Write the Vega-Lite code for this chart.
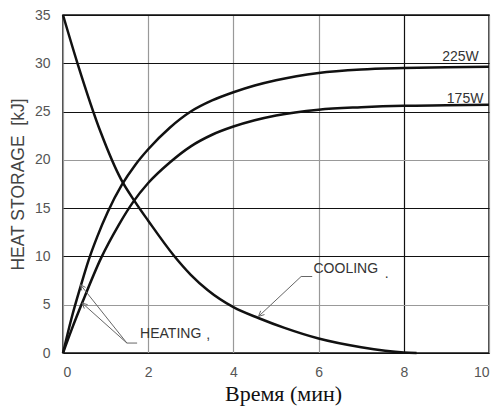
{
  "$schema": "https://vega.github.io/schema/vega-lite/v6.json",
  "width": 426,
  "height": 338,
  "autosize": {"type": "none"},
  "padding": {"left": 63, "top": 15, "right": 7, "bottom": 59},
  "background": "white",
  "config": {
    "view": {"stroke": "#111", "strokeWidth": 1.5},
    "axis": {
      "labelFont": "Liberation Sans",
      "labelFontSize": 14,
      "labelColor": "#555",
      "ticks": false,
      "domain": false,
      "grid": true,
      "gridWidth": 1.2
    }
  },
  "datasets": {
    "curves": [
      {"s": "225W", "x": 0, "y": 0},
      {"s": "225W", "x": 0.2, "y": 3.6},
      {"s": "225W", "x": 0.42, "y": 7.0},
      {"s": "225W", "x": 0.6, "y": 9.6},
      {"s": "225W", "x": 0.8, "y": 12.0},
      {"s": "225W", "x": 1.05, "y": 14.6},
      {"s": "225W", "x": 1.38, "y": 17.4},
      {"s": "225W", "x": 1.7, "y": 19.5},
      {"s": "225W", "x": 2.0, "y": 21.1},
      {"s": "225W", "x": 2.5, "y": 23.3},
      {"s": "225W", "x": 3.0, "y": 25.0},
      {"s": "225W", "x": 3.5, "y": 26.15},
      {"s": "225W", "x": 4.0, "y": 27.0},
      {"s": "225W", "x": 4.5, "y": 27.7},
      {"s": "225W", "x": 5.0, "y": 28.25},
      {"s": "225W", "x": 6.0, "y": 29.0},
      {"s": "225W", "x": 7.0, "y": 29.35},
      {"s": "225W", "x": 8.0, "y": 29.5},
      {"s": "225W", "x": 9.0, "y": 29.6},
      {"s": "225W", "x": 10.0, "y": 29.65},
      {"s": "175W", "x": 0, "y": 0},
      {"s": "175W", "x": 0.2, "y": 2.4},
      {"s": "175W", "x": 0.46, "y": 5.3},
      {"s": "175W", "x": 0.89, "y": 9.8},
      {"s": "175W", "x": 1.3, "y": 13.2},
      {"s": "175W", "x": 1.64, "y": 15.6},
      {"s": "175W", "x": 2.0, "y": 17.6},
      {"s": "175W", "x": 2.5, "y": 19.7},
      {"s": "175W", "x": 3.0, "y": 21.4},
      {"s": "175W", "x": 3.5, "y": 22.6},
      {"s": "175W", "x": 4.0, "y": 23.45},
      {"s": "175W", "x": 4.5, "y": 24.1},
      {"s": "175W", "x": 5.0, "y": 24.6},
      {"s": "175W", "x": 6.0, "y": 25.2},
      {"s": "175W", "x": 7.0, "y": 25.45},
      {"s": "175W", "x": 8.0, "y": 25.6},
      {"s": "175W", "x": 9.0, "y": 25.65},
      {"s": "175W", "x": 10.0, "y": 25.7},
      {"s": "cooling", "x": 0, "y": 35},
      {"s": "cooling", "x": 0.34, "y": 30.0},
      {"s": "cooling", "x": 0.89, "y": 22.8},
      {"s": "cooling", "x": 1.36, "y": 18.0},
      {"s": "cooling", "x": 1.7, "y": 15.6},
      {"s": "cooling", "x": 2.0, "y": 13.7},
      {"s": "cooling", "x": 2.6, "y": 10.1},
      {"s": "cooling", "x": 3.0, "y": 8.1},
      {"s": "cooling", "x": 3.4, "y": 6.5},
      {"s": "cooling", "x": 4.0, "y": 4.75},
      {"s": "cooling", "x": 4.6, "y": 3.6},
      {"s": "cooling", "x": 5.2, "y": 2.6},
      {"s": "cooling", "x": 6.0, "y": 1.5},
      {"s": "cooling", "x": 7.0, "y": 0.6},
      {"s": "cooling", "x": 8.0, "y": 0.05},
      {"s": "cooling", "x": 8.3, "y": 0}
    ],
    "arrows": [
      {"a": "h1", "o": 1, "x": 1.74, "y": 1.03},
      {"a": "h1", "o": 2, "x": 1.5, "y": 1.03},
      {"a": "h1", "o": 3, "x": 0.41, "y": 7.07},
      {"a": "h2", "o": 1, "x": 1.5, "y": 1.03},
      {"a": "h2", "o": 2, "x": 0.45, "y": 5.17},
      {"a": "hh1", "o": 1, "x": 0.44, "y": 6.47},
      {"a": "hh1", "o": 2, "x": 0.41, "y": 7.07},
      {"a": "hh1", "o": 3, "x": 0.53, "y": 6.79},
      {"a": "hh2", "o": 1, "x": 0.5, "y": 4.6},
      {"a": "hh2", "o": 2, "x": 0.45, "y": 5.17},
      {"a": "hh2", "o": 3, "x": 0.58, "y": 5.0},
      {"a": "c1", "o": 1, "x": 5.85, "y": 7.92},
      {"a": "c1", "o": 2, "x": 5.59, "y": 7.92},
      {"a": "c1", "o": 3, "x": 4.59, "y": 3.79},
      {"a": "ch", "o": 1, "x": 4.73, "y": 3.98},
      {"a": "ch", "o": 2, "x": 4.59, "y": 3.79},
      {"a": "ch", "o": 3, "x": 4.64, "y": 4.37}
    ],
    "labels": [
      {"label": "225W", "x": 8.9, "y": 30.2},
      {"label": "175W", "x": 9.01, "y": 25.86},
      {"label": "COOLING", "x": 5.88, "y": 8.28},
      {"label": ".", "x": 7.55, "y": 7.77},
      {"label": "HEATING", "x": 1.81, "y": 1.55},
      {"label": ",", "x": 3.36, "y": 1.45}
    ]
  },
  "encoding": {
    "x": {
      "field": "x",
      "type": "quantitative",
      "scale": {"domain": [0, 10], "nice": false},
      "title": "Время (мин)",
      "axis": {
        "values": [0, 2, 4, 6, 8, 10],
        "labelPadding": 12,
        "titleFont": "Liberation Serif",
        "titleFontSize": 22,
        "titleFontWeight": "normal",
        "titleColor": "#111",
        "titlePadding": 4,
        "titleX": 220,
        "gridColor": {"condition": {"test": "datum.value === 8", "value": "#111"}, "value": "#999"}
      }
    },
    "y": {
      "field": "y",
      "type": "quantitative",
      "scale": {"domain": [0, 35], "nice": false},
      "title": "HEAT STORAGE\u00a0\u00a0[kJ]",
      "axis": {
        "values": [0, 5, 10, 15, 20, 25, 30, 35],
        "labelPadding": 13,
        "titleFont": "Liberation Sans",
        "titleFontSize": 17.5,
        "titleFontWeight": "normal",
        "titleColor": "#444",
        "titlePadding": 7,
        "gridColor": {"condition": {"test": "datum.value === 20 || datum.value === 5", "value": "#999"}, "value": "#111"}
      }
    }
  },
  "layer": [
    {
      "data": {"name": "curves"},
      "mark": {"type": "line", "interpolate": "monotone", "color": "#111", "strokeWidth": 2.5},
      "encoding": {"detail": {"field": "s", "type": "nominal"}}
    },
    {
      "data": {"name": "arrows"},
      "mark": {"type": "line", "color": "#666", "strokeWidth": 1},
      "encoding": {
        "detail": {"field": "a", "type": "nominal"},
        "order": {"field": "o", "type": "quantitative"}
      }
    },
    {
      "data": {"name": "labels"},
      "mark": {"type": "text", "align": "left", "baseline": "alphabetic", "font": "Liberation Sans", "fontSize": 14, "color": "#333"},
      "encoding": {"text": {"field": "label", "type": "nominal"}}
    }
  ]
}
